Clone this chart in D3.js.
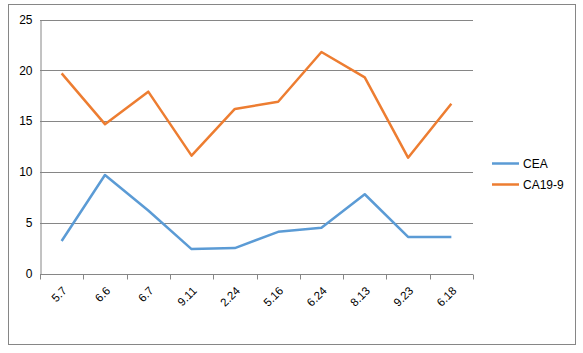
<!DOCTYPE html>
<html>
<head>
<meta charset="utf-8">
<script src="https://cdn.jsdelivr.net/npm/d3@7"></script>
<style>
  body { margin: 0; background: #fff; }
  text { font-family: "Liberation Sans", Arial, sans-serif; font-size: 11.5px; fill: #000; }
</style>
</head>
<body>
<svg id="chart" width="583" height="353"></svg>
<script>
// Data
const categories = ["5.7", "6.6", "6.7", "9.11", "2.24", "5.16", "6.24", "8.13", "9.23", "6.18"];
const ceaValues = [3.2, 9.7, 6.2, 2.4, 2.5, 4.1, 4.5, 7.8, 3.6, 3.6];
const caValues = [19.7, 14.7, 17.9, 11.6, 16.2, 16.9, 21.8, 19.3, 11.4, 16.7];
const yTicks = [0, 5, 10, 15, 20, 25];
const seriesNames = ["CEA", "CA19-9"];
const seriesColors = ["#5b9bd5", "#ed7d31"];

const svg = d3.select("#chart");
const margin = {left: 40, right: 110, top: 19.5, bottom: 79.5};

// outer frame
svg.append("rect")
    .attr("x", 8.5).attr("y", 4.5)
    .attr("width", 567).attr("height", 340)
    .attr("fill", "none")
    .attr("stroke", "#868686");

const x = d3.scaleBand().domain(categories).range([margin.left, 473]);
const y = d3.scaleLinear().domain([0, 25]).range([273.5, margin.top]);

// gridlines
svg.append("g")
    .selectAll("line")
    .data(yTicks.slice(1))
    .enter().append("line")
    .attr("x1", margin.left).attr("x2", 473)
    .attr("y1", d => Math.round(y(d)) + 0.5)
    .attr("y2", d => Math.round(y(d)) + 0.5)
    .attr("stroke", "#868686");

// y axis
const yAxis = svg.append("g")
    .attr("transform", `translate(${margin.left + 0.5},0)`)
    .call(d3.axisLeft(y).tickValues(yTicks).tickSize(0).tickPadding(8));
yAxis.select(".domain").attr("stroke", "#868686");
yAxis.selectAll("text").style("font-size", "12px");

// x axis
const xAxis = svg.append("g")
    .attr("transform", `translate(0,${Math.round(y(0)) + 0.5})`);
xAxis.append("line")
    .attr("x1", margin.left).attr("x2", 473)
    .attr("stroke", "#868686");
const bounds = categories.map(c => x(c)).concat([x.range()[1]]);
xAxis.selectAll(".tk")
    .data(bounds)
    .enter().append("line")
    .attr("class", "tk")
    .attr("x1", d => Math.round(d) + 0.5).attr("x2", d => Math.round(d) + 0.5)
    .attr("y1", 0).attr("y2", 5)
    .attr("stroke", "#868686");
xAxis.selectAll(".lbl")
    .data(categories)
    .enter().append("text")
    .attr("class", "lbl")
    .attr("text-anchor", "end")
    .attr("transform", d => `translate(${x(d) + x.bandwidth() / 2 + 6},${17}) rotate(-45)`)
    .text(d => d);

// lines
const line = d3.line()
    .x((d, i) => x(categories[i]) + x.bandwidth() / 2)
    .y(d => y(d));

[ceaValues, caValues].forEach((vals, k) => {
    svg.append("path")
        .datum(vals)
        .attr("d", line)
        .attr("fill", "none")
        .attr("stroke", seriesColors[k])
        .attr("stroke-width", 2.5)
        .attr("stroke-linejoin", "round");
});

// legend
const legend = svg.append("g");
seriesNames.forEach((name, k) => {
    const ly = 163.5 + k * 21;
    legend.append("line")
        .attr("x1", 492).attr("x2", 519)
        .attr("y1", ly).attr("y2", ly)
        .attr("stroke", seriesColors[k])
        .attr("stroke-width", 2.5);
    legend.append("text")
        .attr("x", 523).attr("y", ly + 4.5)
        .style("font-size", "12px")
        .text(name);
});
</script>
</body>
</html>
